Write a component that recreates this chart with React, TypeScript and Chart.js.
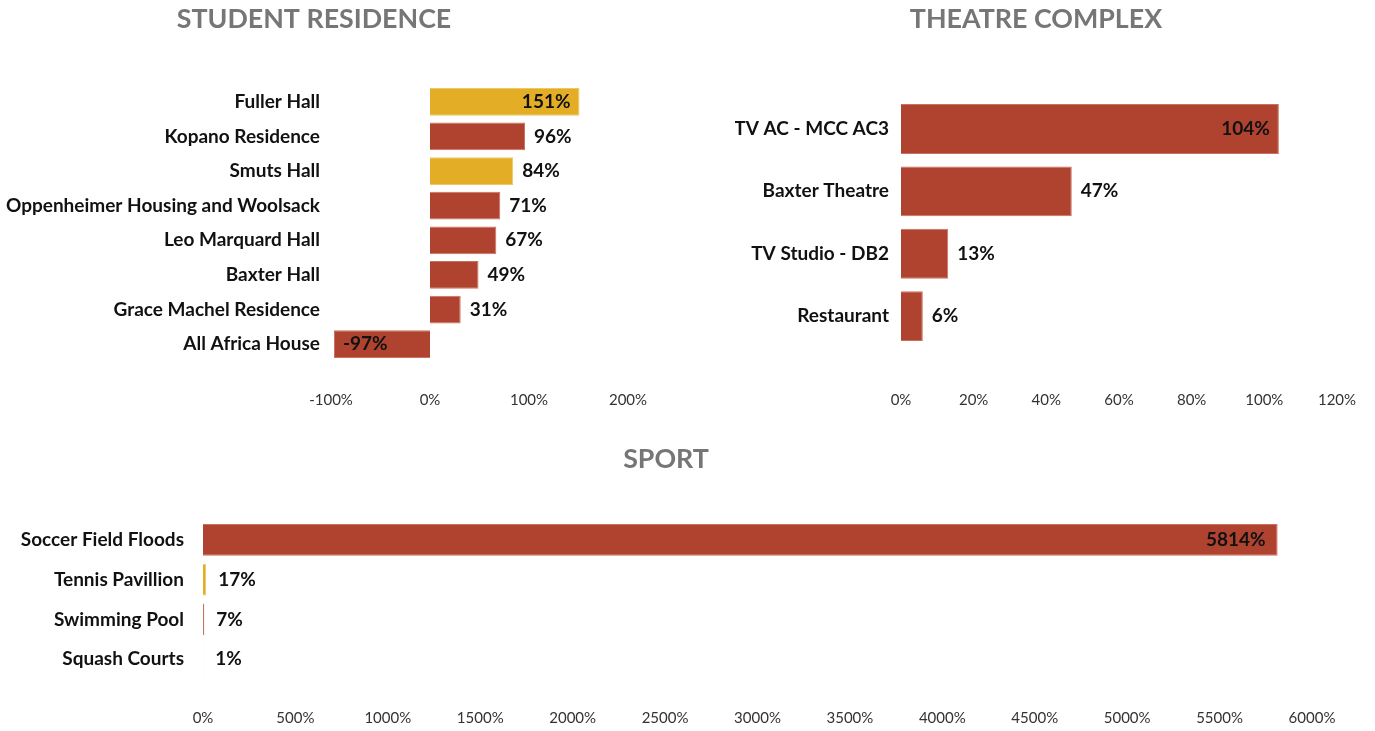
import React, { useEffect, useRef } from "react";
import { Chart, registerables } from "chart.js";

Chart.register(...registerables);

const RED = "#B0432F";
const GOLD = "#E3AE25";
const RED_EDGE = "#C9705F";
const GOLD_EDGE = "#EEC767";

// ---- Student residence ----
const residenceTitle = "STUDENT RESIDENCE";
const residenceLabels = [
  "Fuller Hall",
  "Kopano Residence",
  "Smuts Hall",
  "Oppenheimer Housing and Woolsack",
  "Leo Marquard Hall",
  "Baxter Hall",
  "Grace Machel Residence",
  "All Africa House",
];
const residenceValues = [151, 96, 84, 71, 67, 49, 31, -97];
const residenceColors = [GOLD, RED, GOLD, RED, RED, RED, RED, RED];
const residenceAxis = { min: -100, max: 200, step: 100 };

// ---- Theatre complex ----
const theatreTitle = "THEATRE COMPLEX";
const theatreLabels = ["TV AC - MCC AC3", "Baxter Theatre", "TV Studio - DB2", "Restaurant"];
const theatreValues = [104, 47, 13, 6];
const theatreColors = [RED, RED, RED, RED];
const theatreAxis = { min: 0, max: 120, step: 20 };

// ---- Sport ----
const sportTitle = "SPORT";
const sportLabels = ["Soccer Field Floods", "Tennis Pavillion", "Swimming Pool", "Squash Courts"];
const sportValues = [5814, 17, 7, 1];
const sportColors = [RED, GOLD, RED, RED];
const sportAxis = { min: 0, max: 6000, step: 500 };

const FONT = "Lato";
const TITLE_SIZE = 26.8;
const LABEL_SIZE = 19;

const valueLabelPlugin = {
  id: "valueLabels",
  afterDatasetsDraw(chart: any, _args: any, opts: any) {
    const ctx = chart.ctx;
    const meta = chart.getDatasetMeta(0);
    const data = chart.data.datasets[0].data as number[];
    const maxAbs = Math.max(...data.map((v) => Math.abs(v)));
    const area = chart.chartArea;
    const gap = opts.gap ?? 9;
    ctx.save();
    ctx.font = `bold ${LABEL_SIZE}px ${FONT}`;
    ctx.fillStyle = "#111111";
    ctx.textBaseline = "middle";
    meta.data.forEach((el: any, i: number) => {
      const v = data[i];
      const text = `${v}%`;
      const w = ctx.measureText(text).width;
      const x = el.x;
      const y = el.y;
      if (v >= 0) {
        const inside = Math.abs(v) === maxAbs || x + gap + w > area.right;
        if (inside) {
          ctx.textAlign = "right";
          ctx.fillText(text, x - gap, y);
        } else {
          ctx.textAlign = "left";
          ctx.fillText(text, x + gap, y);
        }
      } else {
        const inside = Math.abs(v) === maxAbs || x - gap - w < area.left;
        if (inside) {
          ctx.textAlign = "left";
          ctx.fillText(text, x + gap, y);
        } else {
          ctx.textAlign = "right";
          ctx.fillText(text, x - gap, y);
        }
      }
    });
    ctx.restore();
  },
};

type BoxProps = {
  title: string;
  labels: string[];
  values: number[];
  colors: string[];
  axis: { min: number; max: number; step: number };
  canvas: { left: number; top: number; width: number; height: number };
  area: { L: number; T: number; R: number; B: number };
  padLeft: number;
  padTop: number;
  yPad: number;
  xPad: number;
  gap: number;
};

function BarBox(p: BoxProps) {
  const ref = useRef<HTMLCanvasElement | null>(null);
  useEffect(() => {
    if (!ref.current) return;
    const { canvas, area } = p;
    const titleLine = TITLE_SIZE * 1.2;
    const titleBottom = area.T - canvas.top - p.padTop - titleLine;
    const padRight = canvas.left + canvas.width - area.R;
    const yWidth = area.L - canvas.left - p.padLeft;
    const padBottom = 0;
    const xHeight = canvas.top + canvas.height - padBottom - area.B;
    const edges = p.colors.map((c) => (c === GOLD ? GOLD_EDGE : RED_EDGE));
    const chart = new Chart(ref.current, {
      type: "bar",
      data: {
        labels: p.labels,
        datasets: [
          {
            data: p.values,
            backgroundColor: p.colors,
            borderColor: edges,
            borderWidth: 1,
            categoryPercentage: 0.8,
            barPercentage: 1,
          },
        ],
      },
      options: {
        indexAxis: "y",
        responsive: false,
        animation: false,
        devicePixelRatio: 1,
        layout: {
          padding: { left: p.padLeft, right: padRight, top: p.padTop, bottom: padBottom },
        },
        plugins: {
          legend: { display: false },
          tooltip: { enabled: false },
          title: {
            display: true,
            text: p.title,
            color: "#767676",
            font: { family: FONT, size: TITLE_SIZE, weight: "bold", lineHeight: 1.2 },
            padding: { top: 0, bottom: titleBottom },
          },
          valueLabels: { gap: p.gap },
        } as any,
        scales: {
          x: {
            type: "linear",
            min: p.axis.min,
            max: p.axis.max,
            grid: { display: false, drawTicks: false },
            border: { display: false },
            ticks: {
              stepSize: p.axis.step,
              padding: p.xPad,
              color: "#333333",
              font: { family: FONT, size: 15, lineHeight: 1.2 },
              callback: (v: any) => `${v}%`,
              maxRotation: 0,
              autoSkip: false,
            },
            afterFit: (s: any) => {
              s.height = xHeight;
              s.paddingLeft = 0;
              s.paddingRight = 0;
            },
          },
          y: {
            type: "category",
            grid: { display: false, drawTicks: false },
            border: { display: false },
            ticks: {
              padding: p.yPad,
              color: "#111111",
              font: { family: FONT, size: LABEL_SIZE, weight: "bold" },
              autoSkip: false,
            },
            afterFit: (s: any) => {
              s.width = yWidth;
            },
          },
        },
      } as any,
      plugins: [valueLabelPlugin as any],
    });
    return () => chart.destroy();
  }, []);
  return (
    <div
      style={{
        position: "absolute",
        left: p.canvas.left,
        top: p.canvas.top,
        width: p.canvas.width,
        height: p.canvas.height,
      }}
    >
      <canvas
        ref={ref}
        width={p.canvas.width}
        height={p.canvas.height}
        style={{ display: "block", width: p.canvas.width, height: p.canvas.height }}
      />
    </div>
  );
}

export default function App() {
  return (
    <div
      style={{
        position: "absolute",
        left: 0,
        top: 0,
        width: 1375,
        height: 731,
        background: "#ffffff",
        overflow: "hidden",
      }}
    >
      <BarBox
        title={residenceTitle}
        labels={residenceLabels}
        values={residenceValues}
        colors={residenceColors}
        axis={residenceAxis}
        canvas={{ left: 0, top: 0, width: 680, height: 425 }}
        area={{ L: 331, T: 84.5, R: 628, B: 361.5 }}
        padLeft={0}
        padTop={3}
        yPad={11}
        xPad={29.5}
        gap={9}
      />
      <BarBox
        title={theatreTitle}
        labels={theatreLabels}
        values={theatreValues}
        colors={theatreColors}
        axis={theatreAxis}
        canvas={{ left: 690, top: 0, width: 685, height: 425 }}
        area={{ L: 901, T: 97.8, R: 1337, B: 347.3 }}
        padLeft={45}
        padTop={3}
        yPad={12}
        xPad={43.7}
        gap={9}
      />
      <BarBox
        title={sportTitle}
        labels={sportLabels}
        values={sportValues}
        colors={sportColors}
        axis={sportAxis}
        canvas={{ left: 0, top: 430, width: 1375, height: 301 }}
        area={{ L: 203, T: 520, R: 1312, B: 679 }}
        padLeft={20}
        padTop={13}
        yPad={19}
        xPad={30}
        gap={12}
      />
    </div>
  );
}
